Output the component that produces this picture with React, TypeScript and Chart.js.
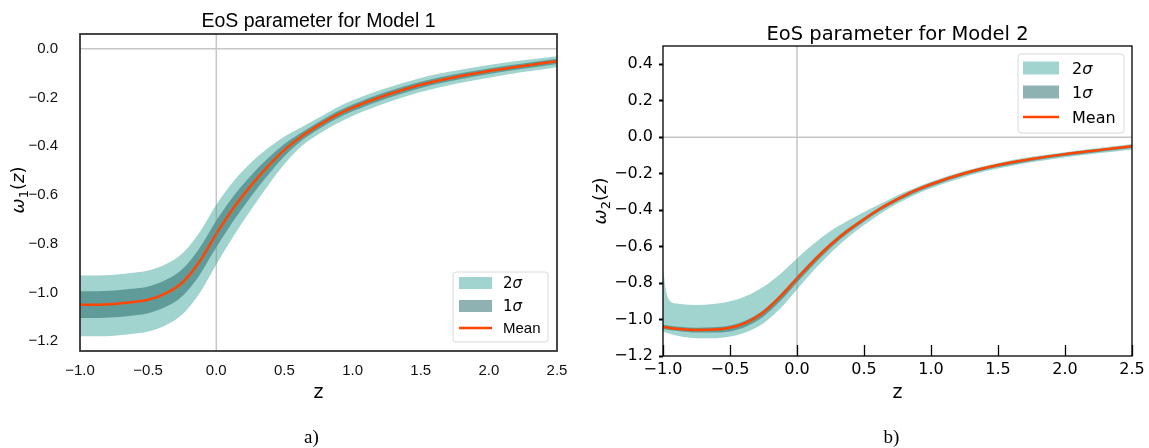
import React, { useEffect, useRef } from 'react';
import { Chart, registerables } from 'chart.js';

Chart.register(...registerables);

// ---------- data: Model 1 ----------
const zGrid1 = [-1, -0.875, -0.75, -0.625, -0.5, -0.375, -0.25, -0.125, 0, 0.125, 0.25, 0.375, 0.5, 0.625, 0.75, 0.875, 1, 1.25, 1.5, 1.75, 2, 2.25, 2.5];
const mean1 = [-1.05, -1.05, -1.047, -1.04, -1.03, -1.005, -0.96, -0.875, -0.76, -0.655, -0.565, -0.485, -0.415, -0.36, -0.315, -0.275, -0.242, -0.19, -0.148, -0.117, -0.092, -0.071, -0.052];
const up2s1 = [-0.93, -0.93, -0.927, -0.92, -0.91, -0.885, -0.84, -0.755, -0.64, -0.545, -0.47, -0.41, -0.36, -0.322, -0.283, -0.244, -0.212, -0.161, -0.12, -0.091, -0.067, -0.048, -0.031];
const lo2s1 = [-1.18, -1.18, -1.177, -1.17, -1.16, -1.135, -1.09, -1.005, -0.885, -0.77, -0.665, -0.565, -0.473, -0.4, -0.351, -0.31, -0.276, -0.222, -0.178, -0.145, -0.119, -0.096, -0.076];
const up1s1 = [-0.995, -0.995, -0.992, -0.985, -0.975, -0.95, -0.905, -0.82, -0.705, -0.605, -0.523, -0.452, -0.391, -0.344, -0.301, -0.261, -0.229, -0.177, -0.136, -0.105, -0.081, -0.061, -0.042];
const lo1s1 = [-1.105, -1.105, -1.102, -1.095, -1.085, -1.06, -1.015, -0.93, -0.815, -0.707, -0.61, -0.521, -0.441, -0.378, -0.331, -0.29, -0.257, -0.204, -0.161, -0.13, -0.104, -0.083, -0.063];

// ---------- data: Model 2 ----------
const zGrid2 = [-1, -0.975, -0.95, -0.9, -0.875, -0.75, -0.625, -0.5, -0.375, -0.25, -0.125, 0, 0.125, 0.25, 0.375, 0.5, 0.625, 0.75, 0.875, 1, 1.25, 1.5, 1.75, 2, 2.25, 2.5];
const mean2 = [-1.04, -1.043, -1.046, -1.05, -1.052, -1.057, -1.055, -1.045, -1.015, -0.96, -0.875, -0.775, -0.678, -0.59, -0.515, -0.45, -0.39, -0.34, -0.295, -0.258, -0.198, -0.153, -0.12, -0.093, -0.071, -0.05];
const up2s2 = [-0.72, -0.85, -0.895, -0.912, -0.915, -0.92, -0.915, -0.9, -0.87, -0.82, -0.75, -0.665, -0.585, -0.515, -0.46, -0.41, -0.365, -0.318, -0.28, -0.245, -0.186, -0.141, -0.108, -0.082, -0.06, -0.038];
const lo2s2 = [-1.065, -1.072, -1.078, -1.088, -1.092, -1.103, -1.103, -1.093, -1.068, -1.02, -0.94, -0.835, -0.73, -0.635, -0.553, -0.482, -0.418, -0.364, -0.318, -0.28, -0.218, -0.172, -0.138, -0.11, -0.088, -0.067];
const up1s2 = [-1.028, -1.031, -1.034, -1.038, -1.04, -1.045, -1.043, -1.033, -1.003, -0.948, -0.863, -0.763, -0.666, -0.579, -0.504, -0.44, -0.381, -0.331, -0.287, -0.25, -0.191, -0.147, -0.114, -0.087, -0.065, -0.044];
const lo1s2 = [-1.052, -1.055, -1.058, -1.062, -1.064, -1.071, -1.071, -1.065, -1.037, -0.984, -0.899, -0.797, -0.698, -0.608, -0.53, -0.463, -0.402, -0.352, -0.307, -0.27, -0.209, -0.164, -0.13, -0.103, -0.081, -0.06];

// ---------- ticks & labels ----------
const xTicks = [-1.0, -0.5, 0.0, 0.5, 1.0, 1.5, 2.0, 2.5];
const yTicks1 = [-1.2, -1.0, -0.8, -0.6, -0.4, -0.2, 0.0];
const yTicks2 = [-1.2, -1.0, -0.8, -0.6, -0.4, -0.2, 0.0, 0.2, 0.4];
const legendLabels = ['2σ', '1σ', 'Mean'];
const titles = ['EoS parameter for Model 1', 'EoS parameter for Model 2'];
const captions = ['a)', 'b)'];

const C2 = '#a1d4ce';
const C1 = 'rgba(29,100,100,0.5)';
const CM = '#ff4500';

const fmt = (v: number) => {
  const s = Math.abs(v) < 1e-9 ? '0.0' : v.toFixed(1);
  return s.replace('-', '\u2212');
};

type Panel = {
  width: number;
  height: number;
  area: { l: number; t: number; r: number; b: number };
  yMin: number;
  yMax: number;
  z: number[];
  mean: number[];
  up2: number[];
  lo2: number[];
  up1: number[];
  lo1: number[];
  yTicks: number[];
  tickFamily: string;
  tickSize: number;
  tickColor: string;
  xPad: number;
  yPad: number;
  yTickMarks: boolean;
  xTickMarks: boolean;
  frameColor: string;
  frameWidth: number;
  title: string;
  titleFamily: string;
  titleSize: number;
  titleBase: number;
  zFamily: string;
  zBase: number;
  ySub: string;
  yLabX: number;
  yLabY: number;
  caption: string;
  captionDx: number;
  legend: {
    x: number; y: number; w: number; h: number;
    px: number; pw: number; ph: number;
    rows: number[]; tx: number; family: string; size: number;
  };
};

function drawYLabel(ctx: CanvasRenderingContext2D, cx: number, cy: number, sub: string, size: number) {
  ctx.save();
  ctx.translate(cx, cy);
  ctx.rotate(-Math.PI / 2);
  const it = `italic ${size}px "DejaVu Sans"`;
  const rm = `${size}px "DejaVu Sans"`;
  const sm = `${Math.round(size * 0.7)}px "DejaVu Sans"`;
  const parts: [string, string, number][] = [
    ['ω', it, 0],
    [sub, sm, size * 0.22],
    ['(', rm, 0],
    ['z', it, 0],
    [')', rm, 0],
  ];
  let total = 0;
  const widths = parts.map(([t, f]) => {
    ctx.font = f;
    const w = ctx.measureText(t).width;
    total += w;
    return w;
  });
  let x = -total / 2;
  ctx.fillStyle = '#000';
  ctx.textBaseline = 'alphabetic';
  ctx.textAlign = 'left';
  parts.forEach(([t, f, dy], i) => {
    ctx.font = f;
    ctx.fillText(t, x, size * 0.36 + dy);
    x += widths[i];
  });
  ctx.restore();
}

function drawLegend(ctx: CanvasRenderingContext2D, L: Panel['legend']) {
  ctx.save();
  const r = 3;
  ctx.beginPath();
  ctx.moveTo(L.x + r, L.y);
  ctx.lineTo(L.x + L.w - r, L.y);
  ctx.arcTo(L.x + L.w, L.y, L.x + L.w, L.y + r, r);
  ctx.lineTo(L.x + L.w, L.y + L.h - r);
  ctx.arcTo(L.x + L.w, L.y + L.h, L.x + L.w - r, L.y + L.h, r);
  ctx.lineTo(L.x + r, L.y + L.h);
  ctx.arcTo(L.x, L.y + L.h, L.x, L.y + L.h - r, r);
  ctx.lineTo(L.x, L.y + r);
  ctx.arcTo(L.x, L.y, L.x + r, L.y, r);
  ctx.closePath();
  ctx.fillStyle = 'rgba(255,255,255,0.85)';
  ctx.fill();
  ctx.strokeStyle = '#d8d8d8';
  ctx.lineWidth = 1;
  ctx.stroke();

  ctx.fillStyle = C2;
  ctx.fillRect(L.px, L.rows[0] - L.ph / 2, L.pw, L.ph);
  ctx.fillStyle = C1;
  ctx.fillRect(L.px, L.rows[1] - L.ph / 2, L.pw, L.ph);
  ctx.strokeStyle = CM;
  ctx.lineWidth = 2.5;
  ctx.beginPath();
  ctx.moveTo(L.px, L.rows[2]);
  ctx.lineTo(L.px + L.pw, L.rows[2]);
  ctx.stroke();

  ctx.fillStyle = '#000';
  ctx.textAlign = 'left';
  ctx.textBaseline = 'alphabetic';
  const math = `${L.size}px "DejaVu Sans"`;
  const mathIt = `italic ${L.size}px "DejaVu Sans"`;
  for (let i = 0; i < 2; i++) {
    const lab = legendLabels[i];
    const base = L.rows[i] + L.size * 0.36;
    ctx.font = math;
    const d = lab.slice(0, 1);
    ctx.fillText(d, L.tx, base);
    const w = ctx.measureText(d).width;
    ctx.font = mathIt;
    ctx.fillText(lab.slice(1), L.tx + w, base);
  }
  ctx.font = `${L.size}px ${L.family}`;
  ctx.fillText(legendLabels[2], L.tx, L.rows[2] + L.size * 0.36);
  ctx.restore();
}

function makeChart(canvas: HTMLCanvasElement, P: Panel) {
  const pts = (arr: number[]) => P.z.map((z, i) => ({ x: z, y: arr[i] }));
  const band = (arr: number[], fill: any, color: string, order: number) => ({
    data: pts(arr),
    borderWidth: 0,
    borderColor: 'transparent',
    backgroundColor: color,
    pointRadius: 0,
    fill,
    order,
    cubicInterpolationMode: 'monotone' as const,
  });

  const overlay = {
    id: 'overlay',
    afterDatasetsDraw(chart: any) {
      const { ctx, chartArea: a, scales } = chart;
      const x = scales.x;
      const y = scales.y;
      ctx.save();
      ctx.beginPath();
      ctx.rect(a.left, a.top, a.right - a.left, a.bottom - a.top);
      ctx.clip();
      ctx.strokeStyle = 'rgba(128,128,128,0.45)';
      ctx.lineWidth = 1.5;
      const y0 = y.getPixelForValue(0);
      const x0 = x.getPixelForValue(0);
      ctx.beginPath();
      ctx.moveTo(a.left, y0);
      ctx.lineTo(a.right, y0);
      ctx.moveTo(x0, a.top);
      ctx.lineTo(x0, a.bottom);
      ctx.stroke();
      ctx.restore();
    },
    afterDraw(chart: any) {
      const { ctx, chartArea: a, scales } = chart;
      const x = scales.x;
      ctx.save();
      if (P.xTickMarks) {
        ctx.strokeStyle = '#000';
        ctx.lineWidth = 1.3;
        ctx.beginPath();
        xTicks.forEach((v) => {
          const px = Math.round(x.getPixelForValue(v)) + 0.5;
          ctx.moveTo(px, a.bottom);
          ctx.lineTo(px, a.bottom - 11);
        });
        ctx.stroke();
      }
      ctx.strokeStyle = P.frameColor;
      ctx.lineWidth = P.frameWidth;
      ctx.strokeRect(a.left, a.top, a.right - a.left, a.bottom - a.top);
      const cx = (a.left + a.right) / 2;
      ctx.fillStyle = '#000';
      ctx.textAlign = 'center';
      ctx.textBaseline = 'alphabetic';
      ctx.font = `${P.titleSize}px ${P.titleFamily}`;
      ctx.fillText(P.title, cx, P.titleBase);
      ctx.font = `19px ${P.zFamily}`;
      ctx.fillText('z', cx, P.zBase);
      ctx.font = `19px "Liberation Serif", serif`;
      ctx.fillText(P.caption, cx + P.captionDx, 443);
      ctx.restore();
      drawYLabel(ctx, P.yLabX, P.yLabY, P.ySub, 18);
      drawLegend(ctx, P.legend);
    },
  };

  const tickFont = { family: P.tickFamily, size: P.tickSize };

  return new Chart(canvas, {
    type: 'line',
    data: {
      datasets: [
        band(P.up2, '+1', C2, 3),
        band(P.lo2, false, C2, 3),
        band(P.up1, '+1', C1, 2),
        band(P.lo1, false, C1, 2),
        {
          data: pts(P.mean),
          borderColor: CM,
          borderWidth: 2.5,
          pointRadius: 0,
          fill: false,
          order: 1,
          cubicInterpolationMode: 'monotone' as const,
        },
      ],
    } as any,
    options: {
      animation: false,
      responsive: false,
      devicePixelRatio: 1,
      layout: {
        padding: { top: P.area.t, right: P.width - P.area.r, left: 0, bottom: 0 },
      },
      plugins: { legend: { display: false }, tooltip: { enabled: false }, title: { display: false } },
      scales: {
        x: {
          type: 'linear',
          min: -1,
          max: 2.5,
          afterFit: (s: any) => {
            s.height = P.height - P.area.b;
          },
          afterBuildTicks: (s: any) => {
            s.ticks = xTicks.map((v) => ({ value: v }));
          },
          grid: { display: false },
          border: { display: false },
          ticks: {
            font: tickFont,
            color: P.tickColor,
            padding: P.xPad,
            maxRotation: 0,
            autoSkip: false,
            callback: (v: any) => fmt(Number(v)),
          },
        },
        y: {
          type: 'linear',
          min: P.yMin,
          max: P.yMax,
          afterFit: (s: any) => {
            s.width = P.area.l;
          },
          afterBuildTicks: (s: any) => {
            s.ticks = P.yTicks.map((v) => ({ value: v }));
          },
          grid: P.yTickMarks
            ? { display: true, drawOnChartArea: false, drawTicks: true, tickLength: 4, tickColor: '#000', tickWidth: 2 }
            : { display: false },
          border: { display: false },
          ticks: {
            font: tickFont,
            color: P.tickColor,
            padding: P.yPad,
            autoSkip: false,
            callback: (v: any) => fmt(Number(v)),
          },
        },
      },
    } as any,
    plugins: [overlay],
  });
}

const panel1: Panel = {
  width: 575,
  height: 448,
  area: { l: 80, t: 34, r: 557, b: 351 },
  yMin: -1.24,
  yMax: 0.06,
  z: zGrid1,
  mean: mean1,
  up2: up2s1,
  lo2: lo2s1,
  up1: up1s1,
  lo1: lo1s1,
  yTicks: yTicks1,
  tickFamily: '"Liberation Sans", Arial, sans-serif',
  tickSize: 15,
  tickColor: '#111',
  xPad: 3,
  yPad: 14,
  yTickMarks: false,
  xTickMarks: false,
  frameColor: '#333',
  frameWidth: 1.8,
  title: titles[0],
  titleFamily: '"Liberation Sans", Arial, sans-serif',
  titleSize: 19.5,
  titleBase: 27,
  zFamily: '"DejaVu Sans", sans-serif',
  zBase: 398,
  ySub: '1',
  yLabX: 18,
  yLabY: 190,
  caption: captions[0],
  captionDx: -7,
  legend: {
    x: 453, y: 272, w: 95, h: 70,
    px: 459, pw: 33, ph: 12,
    rows: [283, 306, 328], tx: 503,
    family: '"Liberation Sans", Arial, sans-serif', size: 15,
  },
};

const panel2: Panel = {
  width: 574,
  height: 448,
  area: { l: 88, t: 46, r: 557, b: 356 },
  yMin: -1.2,
  yMax: 0.5,
  z: zGrid2,
  mean: mean2,
  up2: up2s2,
  lo2: lo2s2,
  up1: up1s2,
  lo1: lo1s2,
  yTicks: yTicks2,
  tickFamily: '"DejaVu Sans", sans-serif',
  tickSize: 16,
  tickColor: '#000',
  xPad: -4,
  yPad: 6,
  yTickMarks: true,
  xTickMarks: true,
  frameColor: '#000',
  frameWidth: 1.3,
  title: titles[1],
  titleFamily: '"DejaVu Sans", sans-serif',
  titleSize: 19.5,
  titleBase: 39.5,
  zFamily: '"DejaVu Sans", sans-serif',
  zBase: 398,
  ySub: '2',
  yLabX: 25,
  yLabY: 201,
  caption: captions[1],
  captionDx: -6,
  legend: {
    x: 443, y: 54, w: 106, h: 79,
    px: 448, pw: 36, ph: 13,
    rows: [68, 92, 117], tx: 497,
    family: '"DejaVu Sans", sans-serif', size: 16,
  },
};

export default function App() {
  const ref1 = useRef<HTMLCanvasElement>(null);
  const ref2 = useRef<HTMLCanvasElement>(null);

  useEffect(() => {
    const c1 = makeChart(ref1.current!, panel1);
    const c2 = makeChart(ref2.current!, panel2);
    return () => {
      c1.destroy();
      c2.destroy();
    };
  }, []);

  return (
    <div style={{ position: 'absolute', left: 0, top: 0, width: 1149, height: 448, background: '#fff' }}>
      <canvas ref={ref1} width={575} height={448} style={{ position: 'absolute', left: 0, top: 0, width: 575, height: 448 }} />
      <canvas ref={ref2} width={574} height={448} style={{ position: 'absolute', left: 575, top: 0, width: 574, height: 448 }} />
    </div>
  );
}
